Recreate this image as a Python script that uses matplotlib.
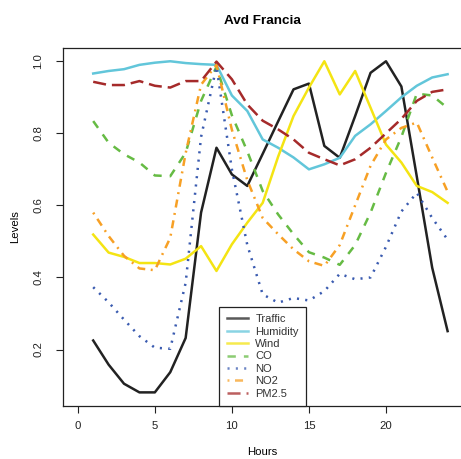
import matplotlib
matplotlib.use("Agg")
import matplotlib.pyplot as plt
from matplotlib.lines import Line2D

plt.rcParams['font.family'] = ['Liberation Sans', 'DejaVu Sans']
plt.rcParams['lines.scale_dashes'] = False

hours = list(range(1, 25))
traffic = [0.225, 0.158, 0.105, 0.081, 0.081, 0.137, 0.232, 0.58, 0.76, 0.686, 0.654, 0.743,
           0.833, 0.922, 0.938, 0.765, 0.732, 0.848, 0.968, 1.0, 0.93, 0.68, 0.427, 0.251]
humidity = [0.966, 0.973, 0.978, 0.99, 0.996, 1.0, 0.995, 0.992, 0.99, 0.905, 0.862, 0.783,
            0.76, 0.733, 0.70, 0.714, 0.732, 0.793, 0.825, 0.862, 0.9, 0.932, 0.955, 0.964]
wind = [0.519, 0.469, 0.457, 0.44, 0.44, 0.436, 0.452, 0.487, 0.418, 0.492, 0.552, 0.607,
        0.735, 0.848, 0.927, 1.0, 0.908, 0.973, 0.871, 0.769, 0.719, 0.654, 0.637, 0.607]
co = [0.834, 0.774, 0.742, 0.719, 0.683, 0.681, 0.746, 0.89, 0.985, 0.85, 0.75, 0.64,
      0.575, 0.52, 0.47, 0.455, 0.435, 0.49, 0.58, 0.69, 0.79, 0.91, 0.905, 0.87]
no = [0.373, 0.331, 0.283, 0.237, 0.205, 0.202, 0.385, 0.79, 0.985, 0.70, 0.49, 0.353,
      0.33, 0.343, 0.336, 0.362, 0.41, 0.395, 0.40, 0.485, 0.583, 0.635, 0.565, 0.505]
no2 = [0.58, 0.515, 0.46, 0.425, 0.42, 0.51, 0.745, 0.935, 0.99, 0.81, 0.67, 0.565,
       0.52, 0.478, 0.445, 0.432, 0.49, 0.60, 0.71, 0.783, 0.815, 0.83, 0.733, 0.638]
pm25 = [0.943, 0.934, 0.934, 0.945, 0.932, 0.927, 0.945, 0.945, 0.999, 0.95, 0.88, 0.835,
        0.811, 0.783, 0.746, 0.728, 0.711, 0.728, 0.76, 0.80, 0.84, 0.89, 0.915, 0.922]

labels = ["Traffic", "Humidity", "Wind", "CO", "NO", "NO2", "PM2.5"]
series = [traffic, humidity, wind, co, no, no2, pm25]
colors = ["#222222", "#62C6DA", "#F4E413", "#66BB44", "#3A5BB0", "#F7A025", "#A52A2A"]
styles = [None, None, None, (0, (6.0, 5.8)), (0, (1.5, 4.5)), (0, (1.4, 4.0, 5.8, 4.0)),
          (0, (9.4, 4.3))]

W, H = 461, 459
fig = plt.figure(figsize=(W / 100, H / 100), dpi=100)
ax = fig.add_axes([63 / W, 1 - 406 / H, (462.4 - 63) / W, (406 - 48) / H])

lw = 1.8
handles = []
for y, c, ls, lab in zip(series, colors, styles, labels):
    if ls is None:
        ln, = ax.plot(hours, y, color=c, lw=lw, solid_joinstyle='round')
    else:
        ln, = ax.plot(hours, y, color=c, lw=lw, linestyle=ls, dash_capstyle='butt')
    handles.append(Line2D([], [], color=c, lw=lw, linestyle=ls if ls else '-', alpha=0.75))

ax.set_xlim(-0.96, 24.96)
ax.set_ylim(0.0432, 1.0368)
ax.set_xticks([0, 5, 10, 15, 20])
ax.set_yticks([0.2, 0.4, 0.6, 0.8, 1.0])
ax.set_yticklabels(["0.2", "0.4", "0.6", "0.8", "1.0"], rotation=90, va='center')
ax.tick_params(axis='both', length=5, width=0.8, labelsize=8.2, colors='#222222')
ax.tick_params(axis='x', pad=6)
ax.tick_params(axis='y', pad=9)
for s in ax.spines.values():
    s.set_linewidth(0.9)
    s.set_color('#222222')

ax.set_title("Avd Francia", fontsize=9.7, fontweight='bold', pad=17)
ax.set_xlabel("Hours", fontsize=8.2, labelpad=11)
ax.set_ylabel("Levels", fontsize=8.2, labelpad=10)

leg = ax.legend(handles, labels, loc='lower center', bbox_to_anchor=(0.5, 0.0),
                fontsize=8, frameon=True, fancybox=False, borderaxespad=0,
                handlelength=1.9, handletextpad=0.7, labelspacing=0.22,
                borderpad=0.65)
leg.get_frame().set_edgecolor('#222222')
leg.get_frame().set_linewidth(0.9)
leg.get_frame().set_alpha(1)
for t in leg.get_texts():
    t.set_color('#333333')

fig.savefig("out.png", dpi=100)
